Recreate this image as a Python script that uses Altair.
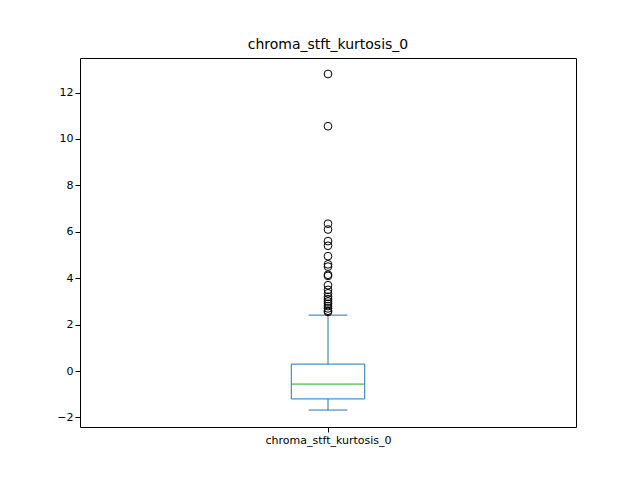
import altair as alt
import pandas as pd

label = "chroma_stft_kurtosis_0"
q1, median, q3 = -1.2, -0.56, 0.3
whisker_low, whisker_high = -1.68, 2.41
outliers = [12.8, 10.55, 6.35, 6.1, 5.6, 5.4, 4.95, 4.6, 4.5, 4.15, 4.1, 3.7,
            3.5, 3.35, 3.2, 3.1, 3.0, 2.9, 2.8, 2.7, 2.6, 2.55]

blue = "#1f77b4"
x_scale = alt.Scale(domain=[0.5, 1.5], nice=False, zero=False)
y_scale = alt.Scale(domain=[-2.41, 13.49], nice=False, zero=False)
x_axis = alt.Axis(values=[1], labelExpr=f"'{label}'", title=None, grid=False,
                  labelFontSize=11, labelColor="black", tickColor="black", domain=False)
y_axis = alt.Axis(values=list(range(-2, 13, 2)), title=None, grid=False,
                  labelFontSize=11, labelColor="black", tickColor="black", domain=False)

stats = pd.DataFrame([{"x": 1, "x_lo": 1 - 0.074, "x_hi": 1 + 0.074,
                       "c_lo": 1 - 0.039, "c_hi": 1 + 0.039,
                       "q1": q1, "median": median, "q3": q3,
                       "wl": whisker_low, "wh": whisker_high}])
base = alt.Chart(stats)

box = base.mark_rect(fill="white", stroke=blue, strokeWidth=1).encode(
    x=alt.X("x_lo:Q", scale=x_scale, axis=x_axis), x2="x_hi:Q",
    y=alt.Y("q1:Q", scale=y_scale, axis=y_axis), y2="q3:Q")
whisk_lo = base.mark_rule(color=blue).encode(x="x:Q", y="wl:Q", y2="q1:Q")
whisk_hi = base.mark_rule(color=blue).encode(x="x:Q", y="q3:Q", y2="wh:Q")
cap_lo = base.mark_rule(color=blue).encode(x="c_lo:Q", x2="c_hi:Q", y="wl:Q")
cap_hi = base.mark_rule(color=blue).encode(x="c_lo:Q", x2="c_hi:Q", y="wh:Q")
med = base.mark_rule(color="#2ca02c").encode(x="x_lo:Q", x2="x_hi:Q", y="median:Q")

fliers = alt.Chart(pd.DataFrame({"x": 1, "v": outliers})).mark_point(
    shape="circle", size=60, stroke="black", strokeWidth=1, filled=False, opacity=1
).encode(x="x:Q", y="v:Q")

chart = (
    alt.layer(box, whisk_lo, whisk_hi, cap_lo, cap_hi, med, fliers)
    .properties(width=496, height=369,
                title=alt.TitleParams(label, fontSize=14, fontWeight="normal", offset=6,
                                      color="black"),
                autosize=alt.AutoSizeParams(type="none"),
                padding={"left": 72, "top": 50, "right": 56, "bottom": 45})
    .configure(font="DejaVu Sans")
    .configure_view(stroke="black", strokeWidth=1, strokeOpacity=1)
)
chart.save("out.html", embed_options={"renderer": "svg", "actions": False})
